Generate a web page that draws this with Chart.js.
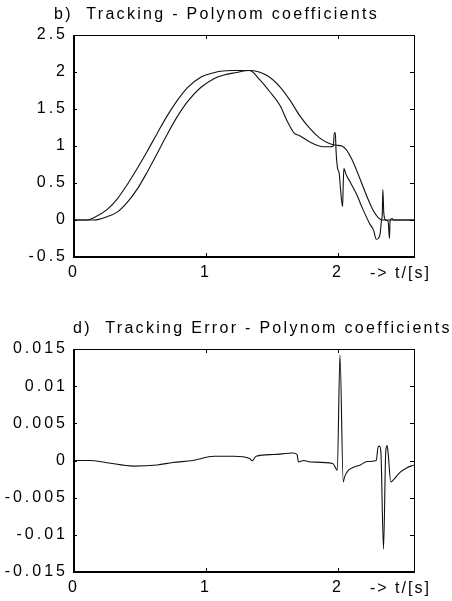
<!DOCTYPE html>
<html>
<head>
<meta charset="utf-8">
<script src="https://cdn.jsdelivr.net/npm/chart.js@4"></script>
<style>
  html, body { margin: 0; padding: 0; background: #fff; }
  .wrap { position: absolute; left: 0; width: 452px; }
  canvas { display: block; }
</style>
</head>
<body>
<div class="wrap" style="top:0"><canvas id="c1" width="452" height="290"></canvas></div>
<div class="wrap" style="top:290px"><canvas id="c2" width="452" height="311"></canvas></div>
<script>
// b) tracking, two curves (read off the picture)
const tA = [0, 0.10, 0.15, 0.25, 0.33, 0.40, 0.48, 0.555, 0.63, 0.707, 0.78, 0.86, 0.96, 1.06, 1.11, 1.20, 1.33,
  1.41, 1.485, 1.56, 1.62, 1.67, 1.71, 1.79, 1.89, 1.94, 1.965, 1.972, 1.98, 1.985, 1.995, 2.01, 2.02, 2.035,
  2.04, 2.045, 2.06, 2.09, 2.14, 2.19, 2.24, 2.27, 2.29, 2.305, 2.32, 2.33, 2.335, 2.34, 2.347, 2.36, 2.38,
  2.39, 2.395, 2.41, 2.42, 2.576];
const yA = [0, 0, 0.03, 0.14, 0.29, 0.47, 0.70, 0.93, 1.17, 1.41, 1.61, 1.79, 1.93, 1.99, 2.01, 2.02, 2.02,
  1.89, 1.73, 1.55, 1.32, 1.17, 1.14, 1.05, 0.99, 0.99, 1.0, 1.18, 1.18, 0.95, 0.72, 0.62, 0.40, 0.18,
  0.50, 0.70, 0.62, 0.52, 0.35, 0.14, -0.05, -0.14, -0.26, -0.25, -0.18, 0.0, 0.05, 0.41, 0.10, 0.0, -0.02,
  -0.25, 0.0, 0.02, 0.0, 0.0];

const tB = [0, 0.15, 0.25, 0.33, 0.40, 0.48, 0.555, 0.63, 0.707, 0.78, 0.86, 0.96, 1.06, 1.136, 1.22, 1.33,
  1.46, 1.56, 1.636, 1.71, 1.79, 1.86, 1.94, 1.99, 2.03, 2.34, 2.576];
const yB = [0, 0, 0.045, 0.11, 0.23, 0.42, 0.65, 0.90, 1.16, 1.39, 1.60, 1.79, 1.91, 1.96, 1.99, 2.02,
  1.955, 1.80, 1.62, 1.41, 1.23, 1.11, 1.03, 1.01, 1.0, 0.0, 0.0];

// d) tracking error
const tE = [0, 0.12, 0.25, 0.45, 0.63, 0.75, 0.90, 1.06, 1.21, 1.33, 1.35, 1.38, 1.51, 1.66, 1.69, 1.70, 1.74,
  1.79, 1.96, 1.995, 2.015, 2.04, 2.05, 2.08, 2.12, 2.17, 2.22, 2.29, 2.305, 2.315, 2.325, 2.345, 2.362,
  2.372, 2.38, 2.40, 2.42, 2.47, 2.52, 2.576];
const yE = [0, 0, -0.0003, -0.00075, -0.0006, -0.00026, 0, 0.00057, 0.00057, 0.00026, -0.00004, 0.00057,
  0.0008, 0.001, 0.0008, -0.00018, 0, -0.0002, -0.0004, -0.0013, 0.0142, -0.0029, -0.0022, -0.0013, -0.0009,
  -0.0006, -0.00013, 0, 0.0019, 0.0019, 0.0012, -0.0119, 0.0012, 0.002, 0.001, -0.0029, -0.0026, -0.0016,
  -0.001, -0.0006];

const xTickValues = [0, 1, 2];
const xTickLabels = ['0', '1', '2'];
const y1TickValues = [-0.5, 0, 0.5, 1, 1.5, 2, 2.5];
const y1TickLabels = ['-0.5', '0', '0.5', '1', '1.5', '2', '2.5'];
const y2TickValues = [-0.015, -0.01, -0.005, 0, 0.005, 0.01, 0.015];
const y2TickLabels = ['-0.015', '-0.01', '-0.005', '0', '0.005', '0.01', '0.015'];

const tMax = 2.576;
const font = { family: '"Liberation Sans", Arial, sans-serif', size: 16 };

const pts = (t, y) => t.map((v, i) => ({ x: v, y: y[i] }));

// box, inward ticks, title and axis note
const frame = {
  id: 'frame',
  beforeDraw(chart) { chart.ctx.letterSpacing = '3px'; },
  afterDraw(chart, args, opts) {
    const ctx = chart.ctx, a = chart.chartArea;
    const xs = chart.scales.x, ys = chart.scales.y;
    ctx.save();
    ctx.letterSpacing = '0px';
    ctx.strokeStyle = '#000';
    ctx.lineWidth = 1;
    ctx.beginPath();
    xs.ticks.forEach(t => {
      const px = Math.round(xs.getPixelForValue(t.value)) + 0.5;
      ctx.moveTo(px, a.bottom); ctx.lineTo(px, a.bottom - 4);
      ctx.moveTo(px, a.top); ctx.lineTo(px, a.top + 4);
    });
    ys.ticks.forEach(t => {
      const py = Math.round(ys.getPixelForValue(t.value)) + 0.5;
      ctx.moveTo(a.left, py); ctx.lineTo(a.left + 3, py);
      ctx.moveTo(a.right, py); ctx.lineTo(a.right - 4, py);
    });
    // top and right edge
    ctx.moveTo(a.left, a.top + 0.5); ctx.lineTo(a.right + 0.5, a.top + 0.5);
    ctx.moveTo(a.right + 0.5, a.top); ctx.lineTo(a.right + 0.5, a.bottom);
    ctx.stroke();
    // left and bottom edge, heavier
    ctx.lineWidth = 2;
    ctx.beginPath();
    ctx.moveTo(a.left, a.top); ctx.lineTo(a.left, a.bottom);
    ctx.lineTo(a.right + 1, a.bottom);
    ctx.stroke();

    ctx.fillStyle = '#000';
    ctx.font = '16px "Liberation Sans", Arial, sans-serif';
    ctx.textAlign = 'left';
    ctx.textBaseline = 'alphabetic';
    ctx.letterSpacing = '2.3px';
    ctx.fillText(opts.title, opts.titleX, a.top - 16);
    ctx.letterSpacing = '2px';
    ctx.fillText('-> t/[s]', a.right - 44, a.bottom + 21);
    ctx.restore();
    ctx.letterSpacing = '0px';
  }
};

function makeChart(id, datasets, yMin, yMax, yVals, yLabels, topPad, xHeight, title, titleX) {
  return new Chart(document.getElementById(id), {
    type: 'line',
    data: { datasets: datasets },
    options: {
      responsive: false,
      animation: false,
      events: [],
      layout: { padding: { top: topPad, right: 38, left: 0, bottom: 0 } },
      elements: { point: { radius: 0 } },
      plugins: {
        legend: { display: false },
        tooltip: { enabled: false },
        frame: { title: title, titleX: titleX }
      },
      scales: {
        x: {
          type: 'linear', min: 0, max: tMax,
          afterBuildTicks: s => { s.ticks = xTickValues.map(v => ({ value: v })); },
          afterFit: s => { s.height = xHeight; },
          grid: { display: false, drawTicks: false },
          border: { display: false },
          ticks: { font: font, color: '#000', padding: 6, maxRotation: 0, autoSkip: false,
            callback: (v, i) => xTickLabels[i] }
        },
        y: {
          type: 'linear', min: yMin, max: yMax,
          afterBuildTicks: s => { s.ticks = yVals.map(v => ({ value: v })); },
          afterFit: s => { s.width = 74; },
          grid: { display: false, drawTicks: false },
          border: { display: false },
          ticks: { font: font, color: '#000', padding: 6, autoSkip: false,
            callback: (v, i) => yLabels[i] }
        }
      }
    },
    plugins: [frame]
  });
}

const lineStyle = { borderColor: '#111', borderWidth: 1.1, fill: false, cubicInterpolationMode: 'monotone' };

makeChart('c1', [
  Object.assign({ data: pts(tA, yA) }, lineStyle),
  Object.assign({ data: pts(tB, yB) }, lineStyle)
], -0.5, 2.5, y1TickValues, y1TickLabels, 35, 33, 'b)  Tracking - Polynom coefficients', 54);

makeChart('c2', [
  Object.assign({ data: pts(tE, yE) }, lineStyle)
], -0.015, 0.015, y2TickValues, y2TickLabels, 59, 29, 'd)  Tracking Error - Polynom coefficients', 73);
</script>
</body>
</html>
